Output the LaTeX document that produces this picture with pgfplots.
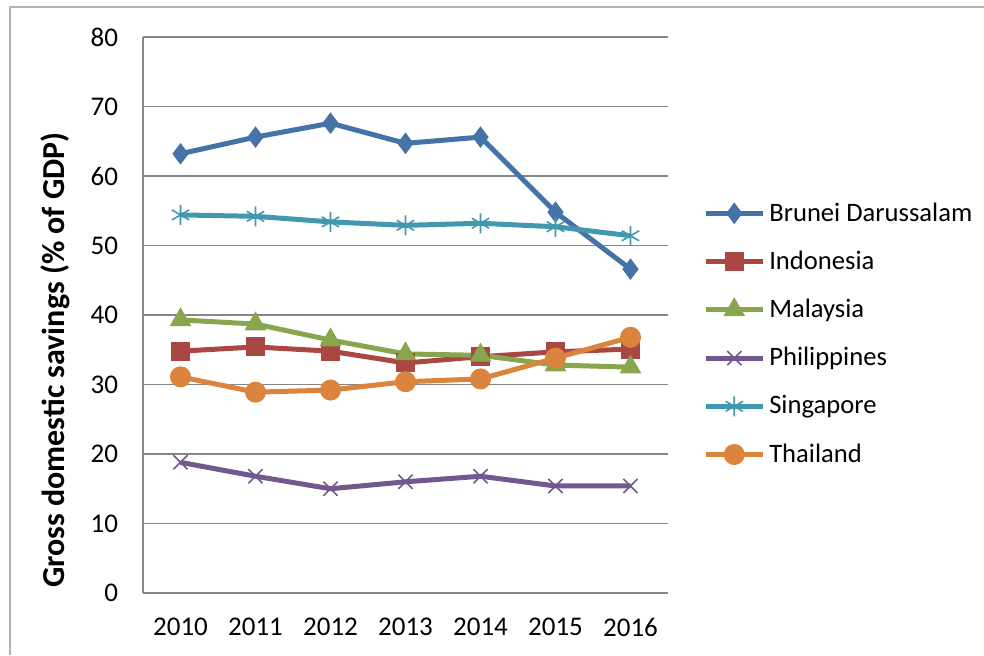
\documentclass[border=0pt]{standalone}
\usepackage{pgfplots}
\pgfplotsset{compat=1.18}
\usepackage{fontspec}
\setmainfont{Carlito}
\definecolor{cBru}{HTML}{4572A7}
\definecolor{cIdn}{HTML}{AA4643}
\definecolor{cMys}{HTML}{89A54E}
\definecolor{cPhl}{HTML}{71588F}
\definecolor{cSgp}{HTML}{4198AF}
\definecolor{cTha}{HTML}{DB843D}
\definecolor{gridc}{HTML}{868686}
\begin{document}
\begin{tikzpicture}
\useasboundingbox (0,0) rectangle (492pt,327.5pt);
\draw[color=gray!60, line width=0.75pt] (5pt,0pt) -- (5pt,324pt) -- (492pt,324pt);
\begin{axis}[
  at={(71.5pt,31pt)}, anchor=south west,
  scale only axis, width=262.5pt, height=278pt,
  xmin=-0.5, xmax=6.5, ymin=0, ymax=80,
  xtick={0,1,2,3,4,5,6},
  xticklabels={2010,2011,2012,2013,2014,2015,2016},
  ytick={0,10,20,30,40,50,60,70,80},
  axis lines*=left,
  axis line style={draw=gridc, line width=0.8pt},
  ymajorgrids, grid style={draw=gridc, line width=0.8pt},
  major tick length=0pt,
  /pgf/number format/assume math mode=true,
  tick label style={font=\fontsize{13.5}{16}\selectfont},
  yticklabel style={xshift=-9pt},
  xticklabel style={yshift=-9pt},
  ylabel={Gross domestic savings (\% of GDP)},
  ylabel style={font=\fontsize{16}{19}\selectfont\bfseries, at={(axis description cs:-0.1676,0.419)}, anchor=center},
  legend style={draw=none, fill=none, at={(1.055,0.466)}, anchor=west,
    font=\fontsize{13.3}{16}\selectfont, row sep=9.4pt, cells={anchor=west}},
  legend image code/.code={\draw[mark repeat=2,mark phase=2,#1] plot coordinates {(0pt,0pt) (14.25pt,0pt) (28.5pt,0pt)};},
  every axis plot/.append style={line width=2.5pt},
]
\addplot[color=cBru, mark=diamond*, mark size=5pt, mark options={solid, fill=cBru, line width=0.5pt}]
  coordinates {(0,63.2) (1,65.6) (2,67.6) (3,64.7) (4,65.6) (5,54.8) (6,46.6)};
\addlegendentry{Brunei Darussalam}
\addplot[color=cIdn, mark=square*, mark size=4.5pt, mark options={solid, fill=cIdn, line width=0.5pt}]
  coordinates {(0,34.8) (1,35.4) (2,34.8) (3,33.1) (4,34.0) (5,34.7) (6,35.1)};
\addlegendentry{Indonesia}
\addplot[color=cMys, mark=triangle*, mark size=5.8pt, mark options={solid, fill=cMys, line width=0.5pt}]
  coordinates {(0,39.3) (1,38.7) (2,36.4) (3,34.4) (4,34.2) (5,32.8) (6,32.5)};
\addlegendentry{Malaysia}
\addplot[color=cPhl, mark=x, mark size=5pt, mark options={solid, line width=0.8pt}]
  coordinates {(0,18.8) (1,16.8) (2,15.0) (3,16.0) (4,16.8) (5,15.4) (6,15.4)};
\addlegendentry{Philippines}
\addplot[color=cSgp, mark=asterisk, mark size=5pt, mark options={solid, line width=0.8pt}]
  coordinates {(0,54.4) (1,54.2) (2,53.4) (3,52.9) (4,53.2) (5,52.7) (6,51.4)};
\addlegendentry{Singapore}
\addplot[color=cTha, mark=*, mark size=5pt, mark options={solid, fill=cTha, line width=0.5pt}]
  coordinates {(0,31.1) (1,28.9) (2,29.2) (3,30.4) (4,30.8) (5,33.8) (6,36.8)};
\addlegendentry{Thailand}
\end{axis}
\end{tikzpicture}
\end{document}
